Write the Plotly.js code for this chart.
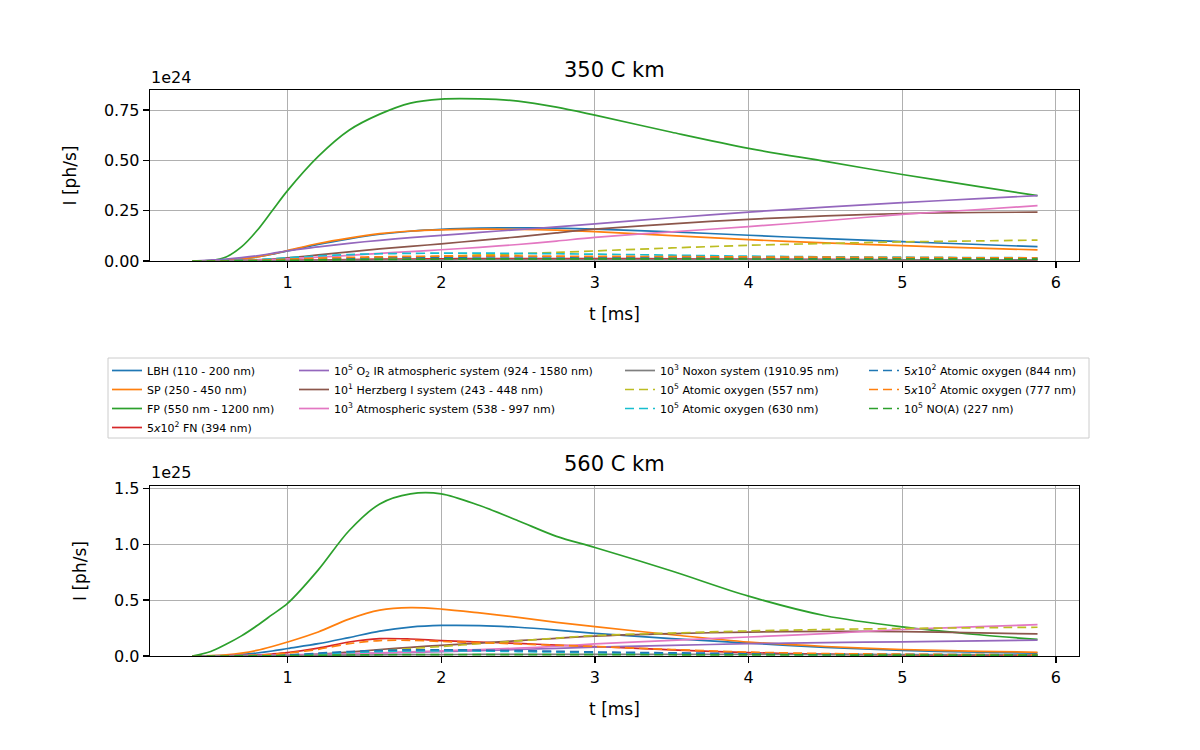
<!DOCTYPE html>
<html>
<head>
<meta charset="utf-8">
<script src="https://cdn.plot.ly/plotly-3.0.1.min.js"></script>
<style>html,body{margin:0;padding:0;background:#fff;}#chart{width:1200px;height:750px;}</style>
</head>
<body>
<div id="chart"></div>
<script>
// time grid [ms]
const T = [0.38, 0.5, 0.6, 0.7, 0.8, 0.9, 1.0, 1.2, 1.4, 1.6, 1.8, 2.0, 2.25, 2.5, 2.75, 3.0, 3.5, 4.0, 4.5, 5.0, 5.5, 5.88];

// legend names
const NAMES = [
  "LBH (110 - 200 nm)",
  "SP (250 - 450 nm)",
  "FP (550 nm - 1200 nm)",
  "5<i>x</i>10<sup>2</sup> FN (394 nm)",
  "10<sup>5</sup> O<sub>2</sub> IR atmospheric system (924 - 1580 nm)",
  "10<sup>1</sup> Herzberg I system (243 - 448 nm)",
  "10<sup>3</sup> Atmospheric system (538 - 997 nm)",
  "10<sup>3</sup> Noxon system (1910.95 nm)",
  "10<sup>5</sup> Atomic oxygen (557 nm)",
  "10<sup>5</sup> Atomic oxygen (630 nm)",
  "5<i>x</i>10<sup>2</sup> Atomic oxygen (844 nm)",
  "5<i>x</i>10<sup>2</sup> Atomic oxygen (777 nm)",
  "10<sup>5</sup> NO(A) (227 nm)"
];

// 350 C km  (units of 1e24 ph/s)
const LBH_350   = [0, 0.001, 0.004, 0.01, 0.02, 0.034, 0.05, 0.083, 0.11, 0.133, 0.148, 0.157, 0.163, 0.165, 0.163, 0.158, 0.145, 0.128, 0.111, 0.096, 0.082, 0.071];
const SP_350    = [0, 0.001, 0.004, 0.01, 0.02, 0.035, 0.052, 0.087, 0.114, 0.136, 0.149, 0.155, 0.158, 0.157, 0.153, 0.146, 0.126, 0.106, 0.09, 0.076, 0.064, 0.055];
const FP_350    = [0, 0.003, 0.02, 0.07, 0.15, 0.25, 0.35, 0.52, 0.65, 0.73, 0.785, 0.805, 0.806, 0.795, 0.765, 0.725, 0.64, 0.56, 0.495, 0.43, 0.37, 0.325];
const FN_350    = [0, 0, 0, 0.001, 0.001, 0.002, 0.003, 0.005, 0.007, 0.009, 0.01, 0.011, 0.012, 0.012, 0.012, 0.012, 0.011, 0.009, 0.008, 0.006, 0.005, 0.004];
const O2IR_350  = [0, 0.005, 0.01, 0.017, 0.026, 0.038, 0.051, 0.07, 0.088, 0.103, 0.116, 0.127, 0.142, 0.156, 0.17, 0.185, 0.215, 0.243, 0.268, 0.29, 0.31, 0.325];
const HERZ_350  = [0, 0, 0.001, 0.003, 0.006, 0.01, 0.016, 0.03, 0.045, 0.06, 0.073, 0.085, 0.103, 0.12, 0.14, 0.158, 0.185, 0.207, 0.224, 0.236, 0.241, 0.243];
const ATM_350   = [0, 0, 0.001, 0.002, 0.004, 0.007, 0.011, 0.019, 0.028, 0.038, 0.047, 0.056, 0.068, 0.082, 0.099, 0.117, 0.145, 0.171, 0.2, 0.232, 0.256, 0.275];
const NOXON_350 = [0, 0, 0, 0, 0.001, 0.001, 0.002, 0.003, 0.004, 0.005, 0.006, 0.006, 0.007, 0.007, 0.007, 0.007, 0.007, 0.007, 0.006, 0.006, 0.006, 0.006];
const O557_350  = [0, 0, 0, 0.001, 0.001, 0.002, 0.003, 0.006, 0.01, 0.014, 0.019, 0.024, 0.03, 0.036, 0.043, 0.05, 0.065, 0.078, 0.087, 0.095, 0.1, 0.104];
const O630_350  = [0, 0.001, 0.002, 0.004, 0.007, 0.011, 0.016, 0.025, 0.032, 0.036, 0.038, 0.039, 0.039, 0.038, 0.036, 0.034, 0.029, 0.024, 0.021, 0.019, 0.017, 0.016];
const O844_350  = [0, 0, 0.001, 0.002, 0.003, 0.005, 0.007, 0.011, 0.014, 0.017, 0.018, 0.019, 0.02, 0.02, 0.02, 0.019, 0.018, 0.017, 0.015, 0.014, 0.013, 0.012];
const O777_350  = [0, 0, 0.001, 0.002, 0.004, 0.006, 0.009, 0.014, 0.018, 0.021, 0.023, 0.024, 0.025, 0.025, 0.024, 0.023, 0.022, 0.02, 0.019, 0.017, 0.016, 0.015];
const NOA_350   = [0, 0, 0, 0.001, 0.001, 0.002, 0.003, 0.005, 0.007, 0.008, 0.009, 0.01, 0.011, 0.011, 0.011, 0.011, 0.011, 0.01, 0.01, 0.01, 0.009, 0.009];

// 560 C km  (units of 1e25 ph/s)
const LBH_560   = [0, 0.002, 0.006, 0.014, 0.027, 0.045, 0.067, 0.11, 0.165, 0.222, 0.258, 0.273, 0.272, 0.257, 0.232, 0.203, 0.155, 0.115, 0.078, 0.05, 0.034, 0.025];
const SP_560    = [0, 0.003, 0.01, 0.025, 0.05, 0.085, 0.125, 0.215, 0.33, 0.41, 0.433, 0.42, 0.385, 0.345, 0.3, 0.262, 0.19, 0.125, 0.085, 0.058, 0.042, 0.033];
const FP_560    = [0, 0.04, 0.105, 0.18, 0.27, 0.37, 0.47, 0.77, 1.12, 1.36, 1.45, 1.45, 1.345, 1.21, 1.07, 0.97, 0.76, 0.535, 0.36, 0.26, 0.19, 0.148];
const FN_560    = [0, 0, 0.002, 0.004, 0.01, 0.018, 0.03, 0.07, 0.125, 0.155, 0.152, 0.138, 0.125, 0.112, 0.098, 0.085, 0.055, 0.03, 0.016, 0.01, 0.007, 0.005];
const O2IR_560  = [0, 0.001, 0.002, 0.004, 0.006, 0.008, 0.01, 0.015, 0.02, 0.027, 0.033, 0.04, 0.048, 0.058, 0.068, 0.08, 0.095, 0.11, 0.12, 0.127, 0.135, 0.142];
const HERZ_560  = [0, 0, 0, 0.001, 0.002, 0.003, 0.005, 0.015, 0.035, 0.058, 0.078, 0.095, 0.115, 0.137, 0.158, 0.178, 0.2, 0.214, 0.22, 0.218, 0.207, 0.197];
const ATM_560   = [0, 0.001, 0.002, 0.003, 0.004, 0.006, 0.008, 0.013, 0.02, 0.028, 0.036, 0.046, 0.058, 0.07, 0.087, 0.108, 0.14, 0.17, 0.2, 0.237, 0.262, 0.28];
const NOXON_560 = [0, 0, 0, 0.001, 0.001, 0.002, 0.003, 0.005, 0.008, 0.01, 0.012, 0.013, 0.014, 0.015, 0.015, 0.015, 0.015, 0.014, 0.013, 0.012, 0.012, 0.011];
const O557_560  = [0, 0, 0, 0.001, 0.002, 0.003, 0.005, 0.015, 0.03, 0.048, 0.066, 0.085, 0.11, 0.135, 0.16, 0.183, 0.205, 0.224, 0.237, 0.246, 0.253, 0.257];
const O630_560  = [0, 0, 0.001, 0.002, 0.003, 0.005, 0.008, 0.018, 0.03, 0.04, 0.045, 0.046, 0.044, 0.04, 0.035, 0.03, 0.023, 0.018, 0.014, 0.011, 0.009, 0.008];
const O844_560  = [0, 0, 0.001, 0.002, 0.004, 0.007, 0.01, 0.025, 0.04, 0.05, 0.055, 0.056, 0.053, 0.048, 0.042, 0.036, 0.028, 0.022, 0.017, 0.014, 0.012, 0.011];
const O777_560  = [0, 0, 0.001, 0.003, 0.007, 0.014, 0.025, 0.06, 0.11, 0.138, 0.14, 0.13, 0.12, 0.108, 0.096, 0.085, 0.058, 0.035, 0.022, 0.016, 0.012, 0.01];
const NOA_560   = [0, 0, 0, 0.001, 0.001, 0.002, 0.003, 0.006, 0.009, 0.011, 0.012, 0.013, 0.013, 0.013, 0.012, 0.012, 0.011, 0.01, 0.009, 0.008, 0.008, 0.007];

// tick labels
const X_TICKS = [1, 2, 3, 4, 5, 6];
const Y_TICKS_350 = [0, 0.25, 0.5, 0.75];
const Y_TICKS_350_TEXT = ["0.00", "0.25", "0.50", "0.75"];
const Y_TICKS_560 = [0, 0.5, 1.0, 1.5];
const Y_TICKS_560_TEXT = ["0.0", "0.5", "1.0", "1.5"];

const COLORS = ["#1f77b4", "#ff7f0e", "#2ca02c", "#d62728", "#9467bd", "#8c564b", "#e377c2", "#7f7f7f", "#bcbd22", "#17becf", "#1f77b4", "#ff7f0e", "#2ca02c"];
const DASHED = [false, false, false, false, false, false, false, false, true, true, true, true, true];
const LEGEND_OF = ["legend", "legend", "legend", "legend", "legend2", "legend2", "legend2", "legend3", "legend3", "legend3", "legend4", "legend4", "legend4"];

const SERIES_350 = [LBH_350, SP_350, FP_350, FN_350, O2IR_350, HERZ_350, ATM_350, NOXON_350, O557_350, O630_350, O844_350, O777_350, NOA_350];
const SERIES_560 = [LBH_560, SP_560, FP_560, FN_560, O2IR_560, HERZ_560, ATM_560, NOXON_560, O557_560, O630_560, O844_560, O777_560, NOA_560];

const traces = [];
SERIES_350.forEach((ys, i) => {
  traces.push({
    x: T, y: ys, type: "scatter", mode: "lines", name: NAMES[i],
    xaxis: "x", yaxis: "y", legend: LEGEND_OF[i], showlegend: true,
    line: {color: COLORS[i], width: 1.7, shape: "spline", smoothing: 0.9, dash: DASHED[i] ? "9px,5px" : "solid"}
  });
});
SERIES_560.forEach((ys, i) => {
  traces.push({
    x: T, y: ys, type: "scatter", mode: "lines", name: NAMES[i],
    xaxis: "x2", yaxis: "y2", showlegend: false,
    line: {color: COLORS[i], width: 1.7, shape: "spline", smoothing: 0.9, dash: DASHED[i] ? "9px,5px" : "solid"}
  });
});

const W = 1200, H = 750;
const px = v => v / W;
const py = v => 1 - v / H;
const FONT = "DejaVu Sans, sans-serif";

function xAxis(anchor) {
  return {
    domain: [px(150), px(1079)], anchor: anchor, range: [0.105, 6.15],
    tickvals: X_TICKS, ticktext: X_TICKS.map(String),
    showgrid: true, gridcolor: "#b0b0b0", gridwidth: 1, zeroline: false,
    showline: true, mirror: true, linecolor: "#000", linewidth: 1.3,
    ticks: "outside", ticklen: 6, tickwidth: 1.3, tickcolor: "#000",
    tickfont: {size: 16, color: "#000", family: FONT},
    title: {text: "t [ms]", font: {size: 17, color: "#000", family: FONT}, standoff: 17}
  };
}
function yAxis(anchor, dom, rng, tv, tt) {
  return {
    domain: dom, anchor: anchor, range: rng,
    tickvals: tv, ticktext: tt,
    showgrid: true, gridcolor: "#b0b0b0", gridwidth: 1, zeroline: false,
    showline: true, mirror: true, linecolor: "#000", linewidth: 1.3,
    ticks: "outside", ticklen: 6, tickwidth: 1.3, tickcolor: "#000",
    tickfont: {size: 16, color: "#000", family: FONT},
    title: {text: "I [ph/s]", font: {size: 17, color: "#000", family: FONT}, standoff: 23}
  };
}

const legendBase = {
  bgcolor: "rgba(0,0,0,0)", borderwidth: 0, orientation: "v",
  font: {size: 11, color: "#000", family: FONT},
  xanchor: "left", yanchor: "top", y: py(356), tracegroupgap: 0, itemwidth: 30
};

const layout = {
  width: W, height: H,
  margin: {l: 0, r: 0, t: 0, b: 0},
  paper_bgcolor: "#fff", plot_bgcolor: "#fff",
  font: {family: FONT, color: "#000"},
  xaxis: xAxis("y"),
  yaxis: yAxis("x", [py(261), py(90)], [0, 0.85], Y_TICKS_350, Y_TICKS_350_TEXT),
  xaxis2: xAxis("y2"),
  yaxis2: yAxis("x2", [py(656), py(486)], [0, 1.52], Y_TICKS_560, Y_TICKS_560_TEXT),
  legend: Object.assign({}, legendBase, {x: px(107)}),
  legend2: Object.assign({}, legendBase, {x: px(294)}),
  legend3: Object.assign({}, legendBase, {x: px(620)}),
  legend4: Object.assign({}, legendBase, {x: px(864)}),
  shapes: [{
    type: "rect", xref: "paper", yref: "paper",
    x0: px(108), x1: px(1089), y0: py(438), y1: py(358),
    line: {color: "#cccccc", width: 1}, fillcolor: "rgba(0,0,0,0)"
  }],
  annotations: [
    {text: "350 C km", xref: "paper", yref: "paper", x: px(614.5), y: py(70), xanchor: "center", yanchor: "middle", showarrow: false, font: {size: 21, color: "#000", family: FONT}},
    {text: "560 C km", xref: "paper", yref: "paper", x: px(614.5), y: py(464), xanchor: "center", yanchor: "middle", showarrow: false, font: {size: 21, color: "#000", family: FONT}},
    {text: "1e24", xref: "paper", yref: "paper", x: px(149), y: py(77), xanchor: "left", yanchor: "middle", showarrow: false, font: {size: 16, color: "#000", family: FONT}},
    {text: "1e25", xref: "paper", yref: "paper", x: px(149), y: py(472), xanchor: "left", yanchor: "middle", showarrow: false, font: {size: 16, color: "#000", family: FONT}}
  ]
};

Plotly.newPlot("chart", traces, layout, {displayModeBar: false, staticPlot: true});
</script>
</body>
</html>
